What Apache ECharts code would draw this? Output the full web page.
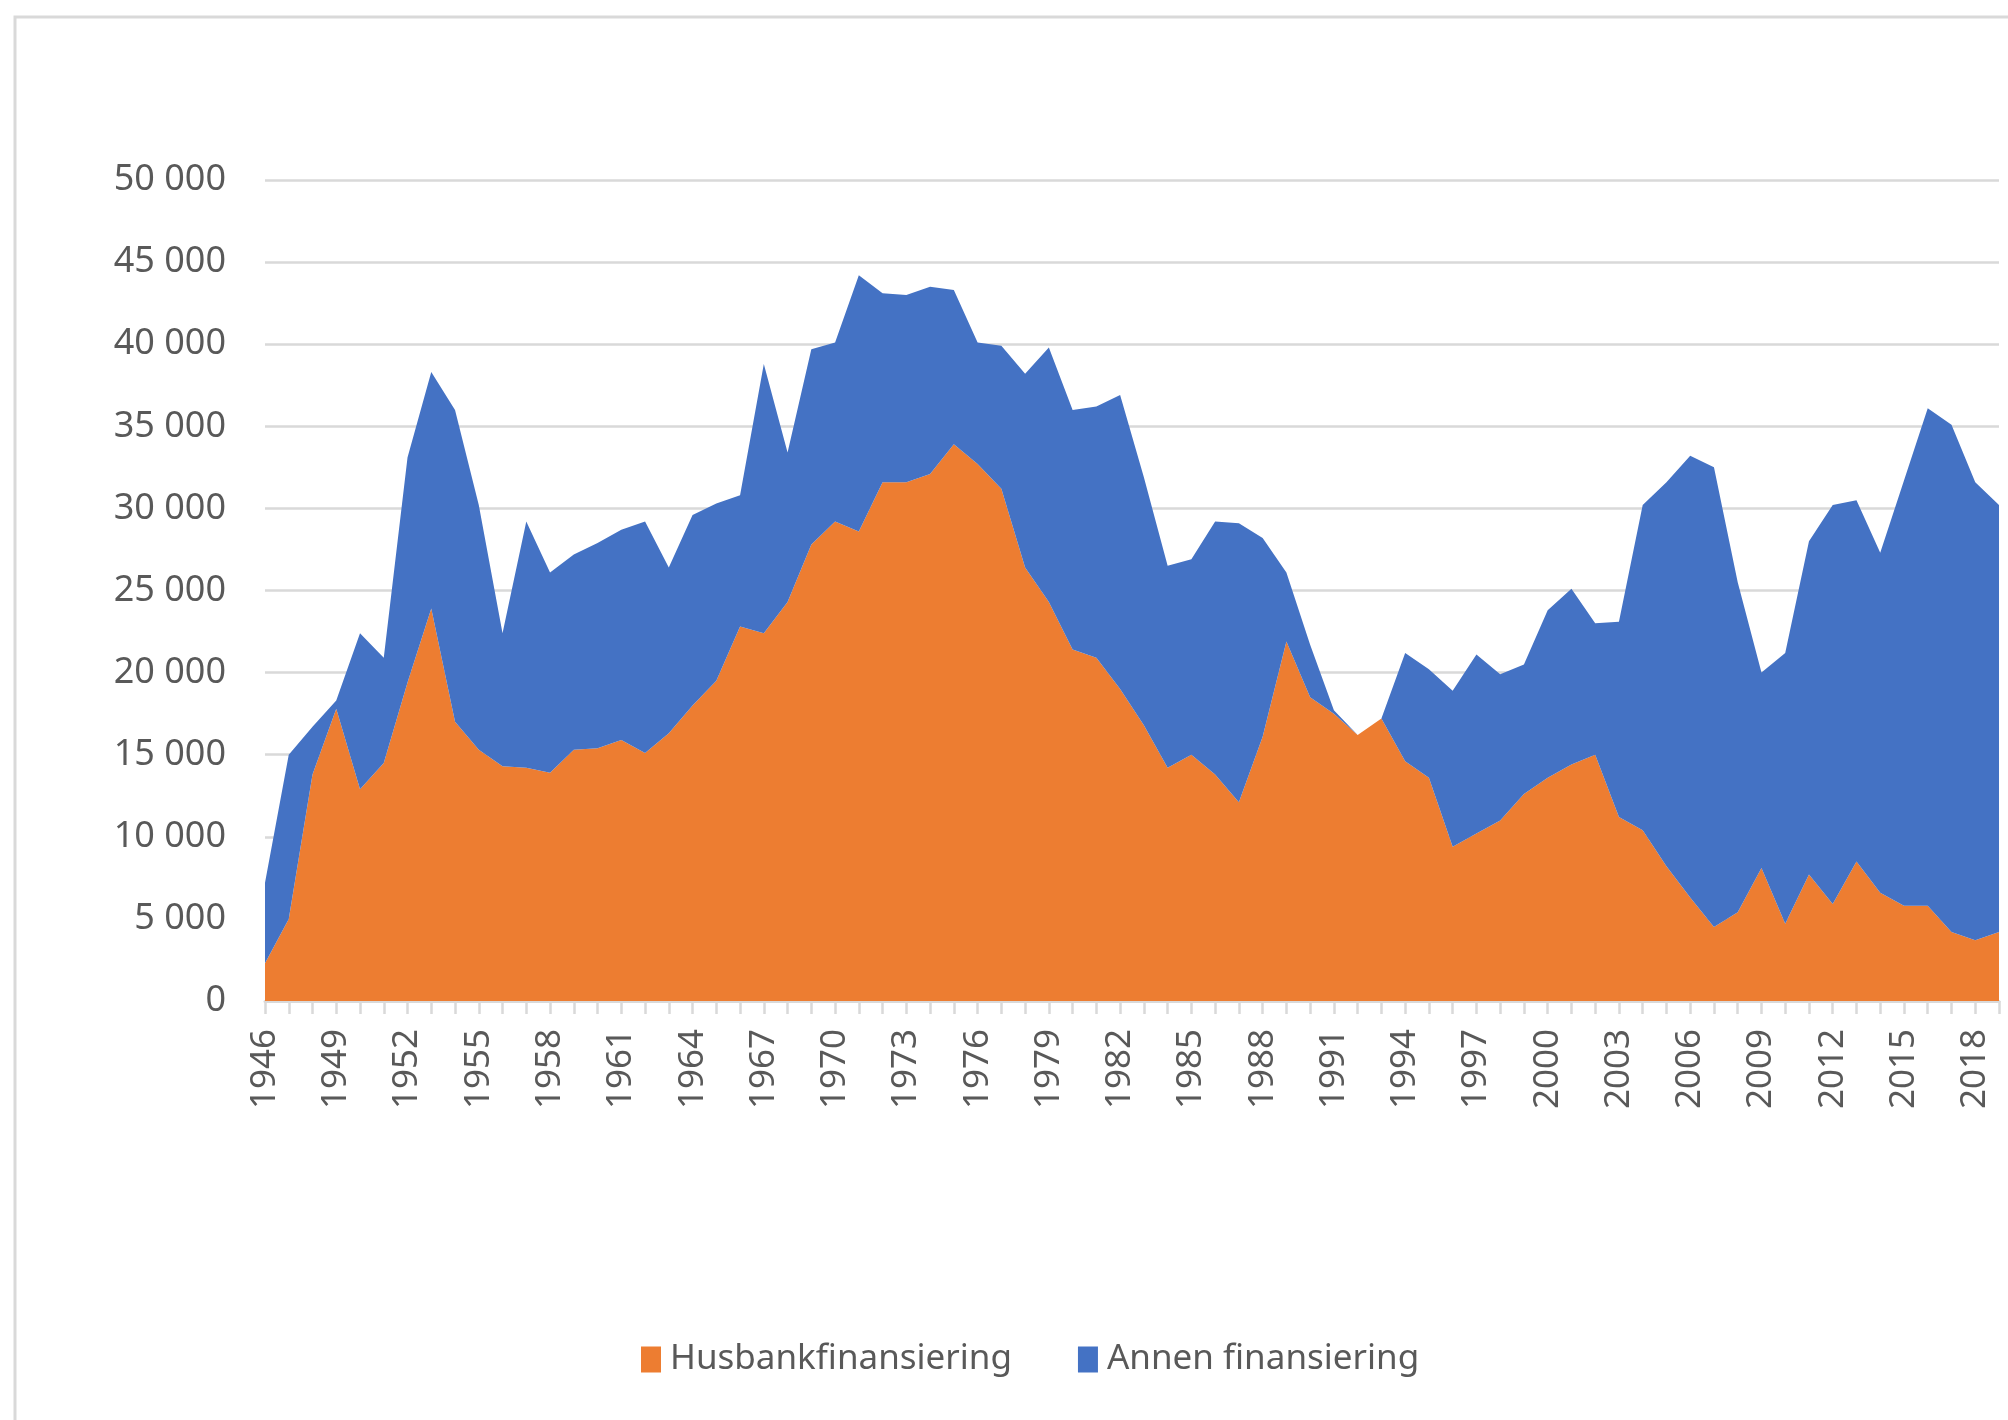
<!DOCTYPE html>
<html>
<head>
<meta charset="utf-8">
<script src="https://cdn.jsdelivr.net/npm/echarts@6/dist/echarts.min.js"></script>
<style>
    html, body { margin: 0; padding: 0; background: #fff; }
    #chart { width: 2008px; height: 1420px; }
</style>
</head>
<body>
<div id="chart"></div>
<script>
    // år 1946-2019
    const years = [];
    for (let y = 1946; y <= 2019; y++) years.push(String(y));

    // boliger finansiert av Husbanken
    const husbank = [
        2300, 5000, 13800, 17800, 12900, 14500, 19400, 23900, 17000, 15300,
        14300, 14200, 13900, 15300, 15400, 15900, 15100, 16300, 18000, 19500,
        22800, 22400, 24300, 27800, 29200, 28600, 31600, 31600, 32100, 33900,
        32700, 31200, 26400, 24300, 21400, 20900, 19000, 16800, 14200, 15000,
        13800, 12100, 16100, 21900, 18500, 17500, 16200, 17200, 14600, 13600,
        9400, 10200, 11000, 12600, 13600, 14400, 15000, 11200, 10400, 8200,
        6300, 4500, 5400, 8100, 4700, 7700, 5900, 8500, 6600, 5800,
        5800, 4200, 3700, 4200
    ];

    // annen finansiering (stablet over husbank)
    const annen = [
        4900, 10000, 2900, 500, 9500, 6400, 13700, 14400, 19000, 14900,
        8100, 15000, 12200, 11900, 12500, 12800, 14100, 10100, 11600, 10800,
        8000, 16400, 9100, 11900, 10900, 15600, 11500, 11400, 11400, 9400,
        7400, 8700, 11800, 15500, 14600, 15300, 17900, 15100, 12300, 11900,
        15400, 17000, 12100, 4200, 3200, 200, 0, 0, 6600, 6600,
        9500, 10900, 8900, 7900, 10200, 10700, 8000, 11900, 19800, 23400,
        26900, 28000, 20100, 11900, 16500, 20300, 24300, 22000, 20700, 25900,
        30300, 30900, 27900, 26000
    ];

    const seriesNames = ['Husbankfinansiering', 'Annen finansiering'];
    const colors = ['#ED7D31', '#4472C4'];

    const myChart = echarts.init(document.getElementById('chart'));

    const option = {
        animation: false,
        color: colors,
        // ramme rundt diagrammet (går ut over høyre og nedre kant)
        graphic: [{
            type: 'rect',
            shape: { x: 15, y: 17, width: 2100, height: 1500 },
            style: { fill: 'none', stroke: '#d9d9d9', lineWidth: 3 },
            silent: true
        }],
        grid: {
            left: 265,
            right: 9,
            top: 180,
            bottom: 419,
            containLabel: false
        },
        legend: {
            data: seriesNames,
            icon: 'rect',
            itemWidth: 20,
            itemHeight: 26,
            itemGap: 66,
            left: 636,
            top: 1337,
            textStyle: {
                fontFamily: 'Noto Sans',
                fontSize: 35,
                color: '#595959',
                padding: [0, 0, 0, 4]
            }
        },
        xAxis: {
            type: 'category',
            data: years,
            boundaryGap: false,
            axisLine: {
                lineStyle: { color: '#d9d9d9', width: 3 }
            },
            axisTick: {
                show: true,
                interval: 0,
                length: 13,
                lineStyle: { color: '#d9d9d9', width: 2.5 }
            },
            axisLabel: {
                interval: 2,
                rotate: 90,
                margin: 28,
                fontFamily: 'Noto Sans',
                fontSize: 35,
                color: '#595959'
            }
        },
        yAxis: {
            type: 'value',
            min: 0,
            max: 50000,
            interval: 5000,
            axisLine: { show: false },
            axisTick: { show: false },
            splitLine: {
                lineStyle: { color: '#d9d9d9', width: 2.5 }
            },
            axisLabel: {
                margin: 39,
                fontFamily: 'Noto Sans',
                fontSize: 36,
                color: '#595959',
                formatter: function (v) {
                    return String(v).replace(/\B(?=(\d{3})+(?!\d))/g, ' ');
                }
            }
        },
        series: [
            {
                name: seriesNames[0],
                type: 'line',
                stack: 'total',
                data: husbank,
                symbol: 'none',
                lineStyle: { width: 0 },
                areaStyle: { opacity: 1 }
            },
            {
                name: seriesNames[1],
                type: 'line',
                stack: 'total',
                data: annen,
                symbol: 'none',
                lineStyle: { width: 0 },
                areaStyle: { opacity: 1 }
            }
        ]
    };

    myChart.setOption(option);
</script>
</body>
</html>
